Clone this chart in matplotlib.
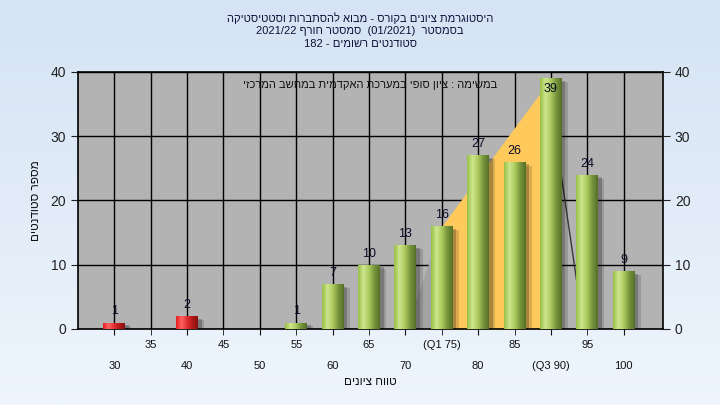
import numpy as np
import matplotlib
matplotlib.use('Agg')
import matplotlib.pyplot as plt
from matplotlib.colors import LinearSegmentedColormap

plt.rcParams['font.family'] = ['Liberation Sans', 'DejaVu Sans']

# data
bins   = [30, 35, 40, 45, 50, 55, 60, 65, 70, 75, 80, 85, 90, 95, 100]
counts = [1, 0, 2, 0, 0, 1, 7, 10, 13, 16, 27, 26, 39, 24, 9]
tick_text = ['30', '35', '40', '45', '50', '55', '60', '65', '70',
             '(Q1 75)', '80', '85', '(Q3 90)', '95', '100']
pass_mark = 55
q_x = [75, 90]
q_y = [16, 39]
left_shadow_x = [70, 75]
left_shadow_y = [0, 16]
edge_x = [90, 94.5]
edge_y = [35, 0]

title_lines = ['היסטוגרמת ציונים בקורס - מבוא להסתברות וסטטיסטיקה',
               'בסמסטר  (01/2021)  סמסטר חורף 2021/22',
               'סטודנטים רשומים - 182']
note = 'במשימה : ציון סופי במערכת האקדמית במחשב המרכזי'
xlab = 'טווח ציונים'
ylab = 'מספר סטודנטים'


def rtl(s):
    # matplotlib has no bidi, so put the words in visual order by hand
    def heb(w):
        return any('\u0590' <= c <= '\u05ff' for c in w)
    words = s.split(' ')
    return ' '.join(w[::-1] if heb(w) else w for w in reversed(words))


fig = plt.figure(figsize=(7.2, 4.05), dpi=100)

# background gradient
bg = fig.add_axes([0, 0, 1, 1], zorder=-10)
bg_cmap = LinearSegmentedColormap.from_list('bg', ['#d5e3f4', '#eef5fc'])
bg.imshow(np.linspace(0, 1, 256).reshape(-1, 1), aspect='auto', cmap=bg_cmap,
          extent=[0, 1, 0, 1])
bg.axis('off')

ax = fig.add_axes([0.1083, 0.1877, 0.8125, 0.6346])
ax.set_facecolor('#b3b3b3')

# quartile area and its shadow edges
ax.fill_between(left_shadow_x, 0, left_shadow_y, color='#a3a3a3', lw=0, zorder=1)
ax.fill_between(q_x, 0, q_y, color='#ffc95c', lw=0, zorder=1.5)
ax.plot(edge_x, edge_y, color='#3a3a3a', lw=1, zorder=1.6)

green = LinearSegmentedColormap.from_list(
    'g', ['#98c046', '#cfe68e', '#acca5e', '#76953a', '#566f28'])
red = LinearSegmentedColormap.from_list(
    'r', ['#e61c1c', '#ff6464', '#e03030', '#b41818', '#861010'])
grad = np.linspace(0, 1, 64).reshape(1, -1)

w = 3.0
for x, c in zip(bins, counts):
    if c == 0:
        continue
    # soft shadow to the right
    ax.bar(x + 0.5, c - 0.4, w, color='black', alpha=0.22, lw=0, zorder=2)
    ax.bar(x + 0.85, c - 0.6, w, color='black', alpha=0.14, lw=0, zorder=2)
    b = ax.bar(x, c, w, color='none', lw=0, zorder=3)[0]
    im = ax.imshow(grad, extent=[x - w / 2, x + w / 2, 0, c], aspect='auto',
                   cmap=red if x < pass_mark else green, zorder=3)
    im.set_clip_path(b)
    ty = c + 0.8 if c < 38 else c - 2.6
    ax.text(x, ty, str(c), ha='center', va='bottom', fontsize=9,
            color='#0a0a28', zorder=5)

ax.set_xlim(25, 105.4)
ax.set_ylim(0, 40)

# x ticks in two rows
ax.set_xticks(bins[::2], labels=tick_text[::2])
ax.set_xticks(bins[1::2], labels=tick_text[1::2], minor=True)
ax.tick_params(axis='x', which='major', pad=19, length=4, labelsize=8, colors='#111')
ax.tick_params(axis='x', which='minor', pad=4, length=4, labelsize=8, colors='#111')
ax.set_yticks([0, 10, 20, 30, 40])
ax.tick_params(axis='y', length=5, labelsize=10, colors='#222',
               left=True, right=True, labelleft=True, labelright=True)
ax.grid(True, which='both', color='black', lw=1.0, zorder=0.5)
ax.set_axisbelow(True)
for sp in ax.spines.values():
    sp.set_color('black')
    sp.set_linewidth(1.2)

ax.text(0.5, 0.95, rtl(note), transform=ax.transAxes, ha='center', va='center',
        fontsize=8, color='#111', zorder=6)

ax.set_xlabel(rtl(xlab), fontsize=8.5, labelpad=4, color='#111')
ax.set_ylabel(rtl(ylab), fontsize=8.5, labelpad=6, color='#111')

for i, line in enumerate(title_lines):
    fig.text(0.5, 0.955 - i * 0.032, rtl(line), ha='center', va='center',
             fontsize=8, color='#10103a')

fig.savefig('out.png', dpi=100)
